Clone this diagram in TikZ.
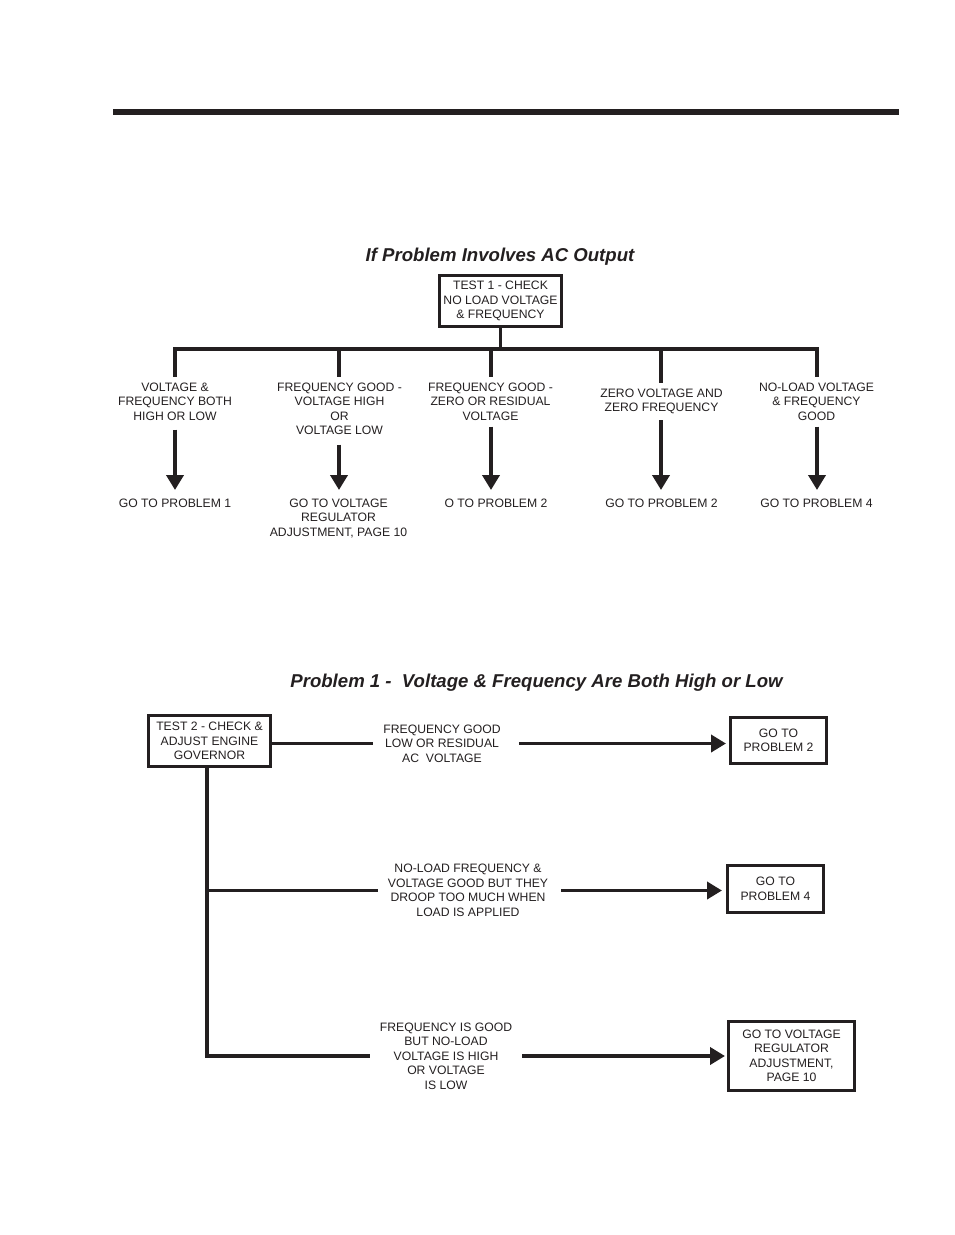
\documentclass[tikz,border=0pt]{standalone}
\usepackage{fontspec}
\setmainfont{Liberation Sans}
\usetikzlibrary{arrows.meta}
\definecolor{ink}{HTML}{231F20}
\begin{document}
\begin{tikzpicture}[x=1pt,y=-1pt,
  txt/.style={font=\fontsize{12.2}{14.5}\selectfont, align=center, text=ink},
  lbl/.style={txt, inner xsep=4pt, inner ysep=6pt, anchor=north},
  res/.style={txt, inner ysep=8.5pt, anchor=north},
  side/.style={txt, inner xsep=10pt, inner ysep=2pt},
  box/.style={txt, draw=ink, line width=3pt, inner sep=2pt},
  conn/.style={draw=ink, line width=3.8pt},
  arr/.style={conn, -{Triangle[length=15pt 0, width=17pt 0]}},
  ttl/.style={font=\fontsize{18.6}{22}\selectfont\bfseries\itshape, text=ink, inner sep=0pt}
]
\useasboundingbox (0,0) rectangle (954,1235);
\fill[ink] (113,109) rectangle (899,115);

% ---------- upper chart ----------
\node[ttl] (title1) at (500,257) {If Problem Involves AC Output};
\node[box, minimum width=122pt, minimum height=51pt] (t1) at (500.5,301)
  {TEST 1 - CHECK\\NO LOAD VOLTAGE\\\& FREQUENCY};

\coordinate (j1) at (175,349);
\coordinate (j2) at (339,349);
\coordinate (j3) at (491,349);
\coordinate (j4) at (661,349);
\coordinate (j5) at (817,349);

\node[lbl] (l1) at (175,376.7) {VOLTAGE \&\\FREQUENCY BOTH\\HIGH OR LOW};
\node[lbl] (l2) at (339.5,376.7) {FREQUENCY GOOD -\\VOLTAGE HIGH\\OR\\VOLTAGE LOW};
\node[lbl] (l3) at (490.5,376.7) {FREQUENCY GOOD -\\ZERO OR RESIDUAL\\VOLTAGE};
\node[lbl] (l4) at (661.5,382.7) {ZERO VOLTAGE AND\\ZERO FREQUENCY};
\node[lbl] (l5) at (816.5,376.7) {NO-LOAD VOLTAGE\\\& FREQUENCY\\GOOD};

\node[res] (r1) at (175,490) {GO TO PROBLEM 1};
\node[res] (r2) at (338.5,490) {GO TO VOLTAGE\\REGULATOR\\ADJUSTMENT, PAGE 10};
\node[res] (r3) at (496,490) {O TO PROBLEM 2};
\node[res] (r4) at (661.5,490) {GO TO PROBLEM 2};
\node[res] (r5) at (816.5,490) {GO TO PROBLEM 4};

\draw[conn] (t1.south) -- (t1.south |- j1);
\draw[conn, line join=miter] (l1.north -| j1) -- (j1) -- (j5) -- (l5.north -| j5);
\draw[conn] (j2) -- (l2.north -| j2);
\draw[conn] (j3) -- (l3.north -| j3);
\draw[conn] (j4) -- (l4.north -| j4);

\draw[arr, shorten <=3pt] (l1.south -| j1) -- (r1.north -| j1);
\draw[arr, shorten <=3.5pt] (l2.south -| j2) -- (r2.north -| j2);
\draw[arr] (l3.south -| j3) -- (r3.north -| j3);
\draw[arr] (l4.south -| j4) -- (r4.north -| j4);
\draw[arr] (l5.south -| j5) -- (r5.north -| j5);

% ---------- lower chart ----------
\node[ttl] (title2) at (536.5,683) {Problem 1 -\ \ Voltage \& Frequency Are Both High or Low};

\node[box, minimum width=122pt, minimum height=51pt] (t2) at (209.5,741)
  {TEST 2 - CHECK \&\\ADJUST ENGINE\\GOVERNOR};
\node[box, minimum width=96pt, minimum height=46pt] (p2) at (778.5,740.5)
  {GO TO\\PROBLEM 2};
\node[box, minimum width=96pt, minimum height=47pt] (p4) at (775.5,889)
  {GO TO\\PROBLEM 4};
\node[box, minimum width=126pt, minimum height=69pt] (vr) at (791.5,1056)
  {GO TO VOLTAGE\\REGULATOR\\ADJUSTMENT,\\PAGE 10};

\node[side] (b1) at (442,743.5) {FREQUENCY GOOD\\LOW OR RESIDUAL\\AC\ \ VOLTAGE};
\node[side] (b2) at (468,890.5) {NO-LOAD FREQUENCY \&\\VOLTAGE GOOD BUT THEY\\DROOP TOO MUCH WHEN\\LOAD IS APPLIED};
\node[side] (b3) at (446,1056) {FREQUENCY IS GOOD\\BUT NO-LOAD\\VOLTAGE IS HIGH\\OR VOLTAGE\\IS LOW};

\coordinate (v2) at (207,890.5);
\coordinate (v3) at (207,1056);

\draw[conn] (t2.east |- b1.west) -- (b1.west);
\draw[arr, shorten <=8pt, shorten >=3pt] (b1.east) -- (p2.west |- b1.east);
\draw[conn, line join=miter] (t2.south -| v3) -- (v3) -- (b3.west);
\draw[conn] (v2) -- (b2.west);
\draw[arr, shorten <=3pt, shorten >=4pt] (b2.east) -- (p4.west |- b2.east);
\draw[arr, shorten >=2pt] (b3.east) -- (vr.west |- b3.east);
\end{tikzpicture}
\end{document}
